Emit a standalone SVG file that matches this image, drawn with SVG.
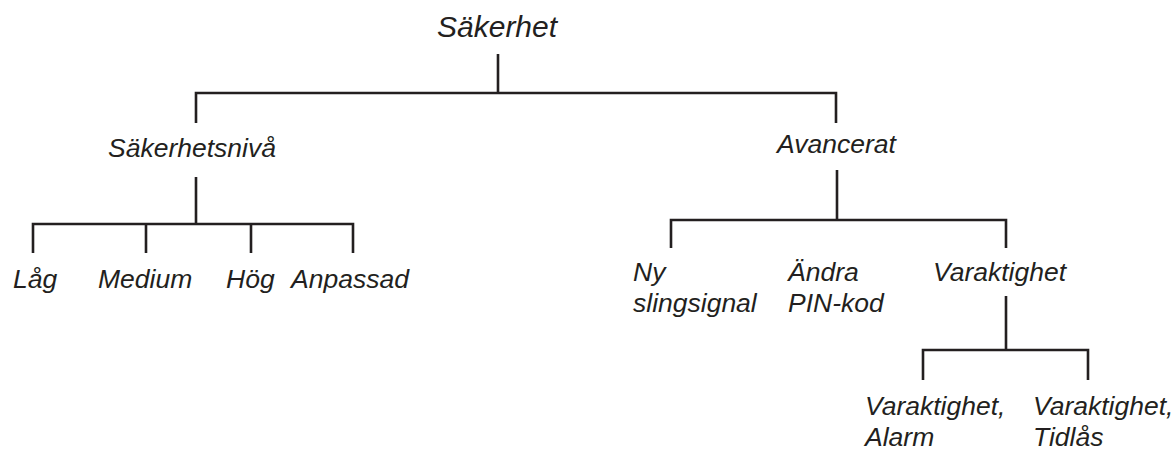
<svg xmlns="http://www.w3.org/2000/svg" width="1176" height="450" viewBox="0 0 1176 450">
<style>
text{font-family:"Liberation Sans",Arial,sans-serif;font-style:italic;font-size:26.5px;fill:#231f20}
.root{font-size:30px}
.c{fill:none;stroke:#231f20;stroke-width:2.6}
</style>
<rect width="1176" height="450" fill="#fff"/>
<g id="connectors">
<path class="c" d="M498,54V93M196,123V93H836V123"/>
<path class="c" d="M196,177V224M33,253V224H353V253M146,224V253M251,224V253"/>
<path class="c" d="M837,170V220M671,248V220H1006V248"/>
<path class="c" d="M1006,296V350M923,380V350H1088V380"/>
</g>
<g id="n-root"><text class="root" x="437" y="37">Säkerhet</text></g>
<g id="n-sakerhetsniva"><text x="108" y="157">Säkerhetsnivå</text></g>
<g id="n-avancerat"><text x="777" y="153">Avancerat</text></g>
<g id="n-lag"><text x="13" y="288">Låg</text></g>
<g id="n-medium"><text x="98" y="288">Medium</text></g>
<g id="n-hog"><text x="226" y="288">Hög</text></g>
<g id="n-anpassad"><text x="291" y="288">Anpassad</text></g>
<g id="n-ny"><text x="633" y="281">Ny</text><text x="633" y="312">slingsignal</text></g>
<g id="n-andra"><text x="788" y="281">Ändra</text><text x="788" y="312">PIN-kod</text></g>
<g id="n-varaktighet"><text x="933" y="281">Varaktighet</text></g>
<g id="n-alarm"><text x="865" y="415">Varaktighet,</text><text x="865" y="446">Alarm</text></g>
<g id="n-tidlas"><text x="1033" y="415">Varaktighet,</text><text x="1033" y="446">Tidlås</text></g>
</svg>
